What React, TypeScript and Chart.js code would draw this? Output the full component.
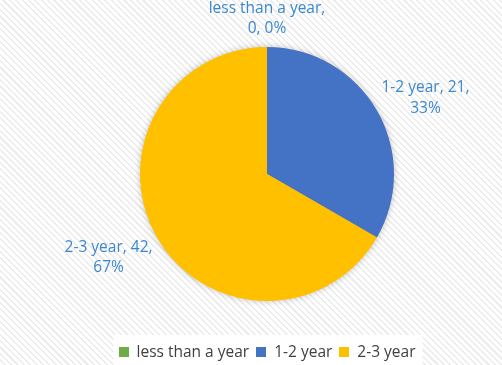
import React, { useEffect, useRef } from "react";
import { Chart, registerables } from "chart.js";

Chart.register(...registerables);

const categories = ["less than a year", "1-2 year", "2-3 year"];
const values = [0, 21, 42];
const colors = ["#70AD47", "#4472C4", "#FFC000"];
const labelColor = "#3A87D0";
const FONT = "'Open Sans', 'Noto Sans', sans-serif";

const shadowPlugin = {
  id: "pieShadow",
  beforeDatasetsDraw(chart: any) {
    const meta = chart.getDatasetMeta(0);
    const arc = meta.data[0];
    if (!arc) return;
    const { x, y, outerRadius } = arc.getProps(["x", "y", "outerRadius"], true);
    const ctx = chart.ctx;
    ctx.save();
    ctx.shadowColor = "rgba(0,0,0,0.28)";
    ctx.shadowBlur = 7;
    ctx.beginPath();
    ctx.arc(x, y, outerRadius - 0.5, 0, Math.PI * 2);
    ctx.fillStyle = "#FFC000";
    ctx.fill();
    ctx.restore();
  },
};

// Legend drawn from the chart's own labels and colours
const legendPlugin = {
  id: "customLegend",
  afterDraw(chart: any) {
    const ctx = chart.ctx;
    const labels = chart.data.labels as string[];
    const cols = chart.data.datasets[0].backgroundColor as string[];
    const box = 10;
    const boxGap = 8;
    const itemGap = 7;
    const cy = 352;
    const centerX = (chart.chartArea.left + chart.chartArea.right) / 2;
    ctx.save();
    ctx.font = `15.5px ${FONT}`;
    ctx.textBaseline = "middle";
    ctx.textAlign = "left";
    const widths = labels.map((l) => ctx.measureText(l).width);
    const total =
      widths.reduce((a, b) => a + b, 0) + labels.length * (box + boxGap) + (labels.length - 1) * itemGap;
    let x = centerX - total / 2;
    ctx.fillStyle = "#ffffff";
    ctx.fillRect(x - 5, 335, total + 12, 30);
    labels.forEach((l, i) => {
      ctx.fillStyle = cols[i];
      ctx.fillRect(Math.round(x), cy - box / 2, box, box);
      x += box + boxGap;
      ctx.fillStyle = "#404040";
      ctx.fillText(l, x, cy + 0.5);
      x += widths[i] + itemGap;
    });
    ctx.restore();
  },
};

const labelPlugin = {
  id: "outLabels",
  afterDatasetsDraw(chart: any) {
    const ctx = chart.ctx;
    const meta = chart.getDatasetMeta(0);
    const data = chart.data.datasets[0].data as number[];
    const total = data.reduce((a, b) => a + b, 0);
    const lineH = 20.5;
    const gap = 12;
    const shiftY = 4;
    ctx.save();
    ctx.font = `15.5px ${FONT}`;
    ctx.fillStyle = labelColor;
    ctx.textAlign = "center";
    ctx.textBaseline = "middle";
    meta.data.forEach((arc: any, i: number) => {
      const { x, y, startAngle, endAngle, outerRadius } = arc.getProps(
        ["x", "y", "startAngle", "endAngle", "outerRadius"],
        true
      );
      const mid = (startAngle + endAngle) / 2;
      const dx = Math.cos(mid);
      const dy = Math.sin(mid);
      const pct = Math.round((data[i] / total) * 100);
      const lines = [`${chart.data.labels[i]},`, `${data[i]}, ${pct}%`];
      const lines2 = [`${chart.data.labels[i]}, ${data[i]},`, `${pct}%`];
      const use = data[i] === 0 ? lines : lines2;
      const w = Math.max(...use.map((l) => ctx.measureText(l).width));
      const h = use.length * lineH;
      const ax = x + (outerRadius + gap) * dx;
      const ay = y + (outerRadius + gap) * dy;
      const cx = ax + dx * (w / 2);
      const cy = ay + dy * (h / 2) + shiftY;
      use.forEach((l, k) => {
        ctx.fillText(l, cx, cy - h / 2 + lineH / 2 + k * lineH);
      });
    });
    ctx.restore();
  },
};

export default function App() {
  const ref = useRef<HTMLCanvasElement>(null);
  useEffect(() => {
    if (!ref.current) return;
    const chart = new Chart(ref.current, {
      type: "pie",
      data: {
        labels: categories,
        datasets: [
          {
            data: values,
            backgroundColor: colors,
            borderWidth: 0,
          },
        ],
      },
      options: {
        responsive: false,
        animation: false,
        layout: { padding: { left: 140, right: 108, top: 47, bottom: 64 } },
        plugins: {
          title: { display: false },
          tooltip: { enabled: false },
          legend: { display: false },
        },
      },
      plugins: [shadowPlugin, labelPlugin, legendPlugin],
    });
    return () => chart.destroy();
  }, []);
  return (
    <div
      style={{
        position: "fixed",
        left: 0,
        top: 0,
        width: 502,
        height: 365,
        background:
          "repeating-linear-gradient(45deg, #ffffff 0px, #ffffff 3px, #ececec 3px, #ececec 4.5px)",
      }}
    >
      <canvas ref={ref} width={502} height={365} style={{ display: "block" }} />
    </div>
  );
}
